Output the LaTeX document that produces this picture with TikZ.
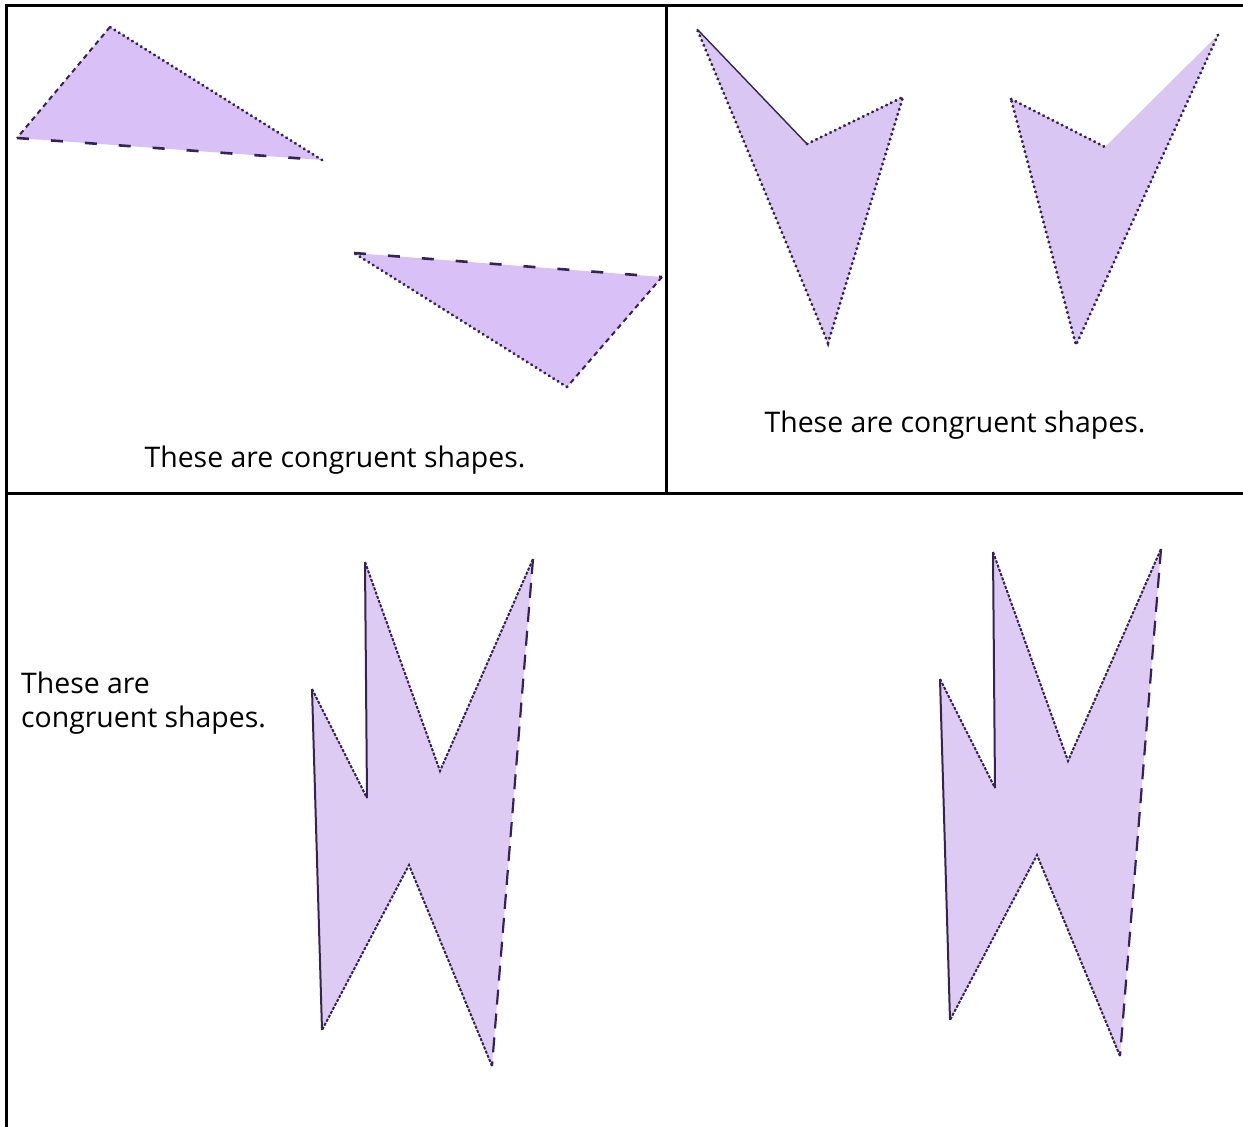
\documentclass[tikz,border=0pt]{standalone}
\usepackage{fontspec}
\setmainfont{Open Sans}
\begin{document}
\begin{tikzpicture}[x=1pt,y=-1pt,
  grid/.style={line width=3pt,black},
  edge/.style={line width=1.6pt,draw=ink},
  dots/.style={edge,line width=3pt,line cap=round,dash pattern=on 0.4pt off 4.8pt},
  fine/.style={edge,line width=2pt,dash pattern=on 5pt off 4pt},
  finelight/.style={edge,line width=2pt,dash pattern=on 3pt off 1.5pt},
  longdash/.style={edge,line width=2.6pt,dash pattern=on 12pt off 22pt},
  lightdash/.style={edge,line width=2.2pt,dash pattern=on 15pt off 9pt},
  solidedge/.style={edge,line width=2pt},
  lbl/.style={font=\fontsize{28.4}{34}\selectfont,inner sep=0pt,anchor=base}]
\definecolor{ink}{RGB}{52,36,84}
\definecolor{trifill}{RGB}{217,192,246}
\definecolor{arrfill}{RGB}{218,198,242}
\definecolor{boltfill}{RGB}{222,203,243}
\useasboundingbox (0,0) rectangle (1243,1127);
% table lines
\draw[grid] (6.5,5) -- (1243,5);
\draw[grid] (6.5,3.5) -- (6.5,1127);
\draw[grid] (666.5,5) -- (666.5,493);
\draw[grid] (6.5,493) -- (1243,493);
% triangle 1
\coordinate (t1a) at (110,27);
\coordinate (t1b) at (17,138);
\coordinate (t1c) at (322,160);
\fill[trifill] (t1a) -- (t1b) -- (t1c) -- cycle;
\draw[fine] (t1a) -- (t1b);
\draw[longdash] (t1b) -- (t1c);
\draw[dots] (t1c) -- (t1a);
% triangle 2
\coordinate (t2a) at (354,253);
\coordinate (t2b) at (662,277);
\coordinate (t2c) at (567,387);
\fill[trifill] (t2a) -- (t2b) -- (t2c) -- cycle;
\draw[longdash] (t2a) -- (t2b);
\draw[fine] (t2b) -- (t2c);
\draw[dots] (t2c) -- (t2a);
% arrow 1
\coordinate (a1a) at (697,29);
\coordinate (a1b) at (807,144);
\coordinate (a1c) at (903,97);
\coordinate (a1d) at (828,343);
\fill[arrfill] (a1a) -- (a1b) -- (a1c) -- (a1d) -- cycle;
\draw[edge,line width=1.4pt] (a1a) -- (a1b);
\draw[dots] (a1b) -- (a1c) -- (a1d) -- (a1a);
% arrow 2
\coordinate (a2a) at (1011,99);
\coordinate (a2b) at (1105,147);
\coordinate (a2c) at (1218,35);
\coordinate (a2d) at (1076,345);
\fill[arrfill] (a2a) -- (a2b) -- (a2c) -- (a2d) -- cycle;
\draw[dots] (a2a) -- (a2b);
\draw[dots] (a2c) -- (a2d) -- (a2a);
% lightning bolts
\foreach \dx/\dy/\n in {0/0/1, 628/-10/2} {
  \begin{scope}[shift={(\dx,\dy)}]
    \coordinate (b\n a) at (365,562);
    \coordinate (b\n b) at (440,771);
    \coordinate (b\n c) at (533,559);
    \coordinate (b\n d) at (492,1066);
    \coordinate (b\n e) at (409,865);
    \coordinate (b\n f) at (322,1030);
    \coordinate (b\n g) at (312,689);
    \coordinate (b\n h) at (367,798);
    \fill[boltfill] (b\n a) -- (b\n b) -- (b\n c) -- (b\n d) -- (b\n e) -- (b\n f) -- (b\n g) -- (b\n h) -- cycle;
    \draw[finelight] (b\n a) -- (b\n b) -- (b\n c);
    \draw[lightdash] (b\n c) -- (b\n d);
    \draw[finelight] (b\n d) -- (b\n e) -- (b\n f);
    \draw[solidedge] (b\n f) -- (b\n g);
    \draw[finelight] (b\n g) -- (b\n h);
    \draw[solidedge] (b\n h) -- (b\n a);
  \end{scope}
}
% labels
\node[lbl] (l1) at (335,467) {These are congruent shapes.};
\node[lbl] (l2) at (955,432) {These are congruent shapes.};
\node[lbl,anchor=base west] (l3) at (21,693) {These are};
\node[lbl,anchor=base west] (l4) at (21,727) {congruent shapes.};
\end{tikzpicture}
\end{document}
